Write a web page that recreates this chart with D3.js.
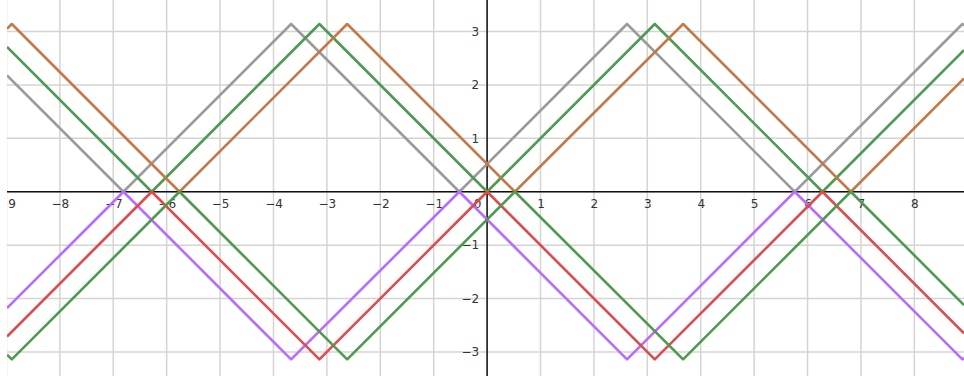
<!DOCTYPE html>
<html>
<head>
<meta charset="utf-8">
<script src="https://cdn.jsdelivr.net/npm/d3@7"></script>
<style>
  body { margin: 0; background: #fff; }
  svg { display: block; }
  .tick text { font-family: "DejaVu Sans", sans-serif; font-size: 12px; fill: #333; }
</style>
</head>
<body>
<svg width="964" height="376"></svg>
<script>

// vertices (x, y in chart units)
const grayX   = [-8.99, -6.81, -3.67, -0.52, 2.62, 5.76, 8.90, 8.93];
const grayY   = [2.18, 0, 3.14, 0, 3.14, 0, 3.14, 3.11];
const purpleX = [-8.99, -6.81, -3.67, -0.52, 2.62, 5.76, 8.90, 8.93];
const purpleY = [-2.18, 0, -3.14, 0, -3.14, 0, -3.14, -3.11];
const greenX  = [-8.99, -6.28, -3.14, 0, 3.14, 6.28, 8.93];
const greenY  = [2.71, 0, 3.14, 0, 3.14, 0, 2.65];
const redX    = [-8.99, -6.28, -3.14, 0, 3.14, 6.28, 8.93];
const redY    = [-2.71, 0, -3.14, 0, -3.14, 0, -2.65];
const orangeX = [-8.99, -8.90, -5.76, -2.62, 0.52, 3.67, 6.81, 8.93];
const orangeY = [3.05, 3.14, 0, 3.14, 0, 3.14, 0, 2.12];
const green2X = [-8.99, -8.90, -5.76, -2.62, 0.52, 3.67, 6.81, 8.93];
const green2Y = [-3.05, -3.14, 0, -3.14, 0, -3.14, 0, -2.12];

const xTicks = [-9, -8, -7, -6, -5, -4, -3, -2, -1, 1, 2, 3, 4, 5, 6, 7, 8];
const yTicks = [-3, -2, -1, 1, 2, 3];
const xGrid  = [-9, -8, -7, -6, -5, -4, -3, -2, -1, 0, 1, 2, 3, 4, 5, 6, 7, 8];
const yGrid  = [-3, -2, -1, 0, 1, 2, 3];

const series = [
  {xs: grayX,   ys: grayY,   color: "#9b9b9b"},
  {xs: greenX,  ys: greenY,  color: "#4f9a50"},
  {xs: orangeX, ys: orangeY, color: "#c47a48"},
  {xs: purpleX, ys: purpleY, color: "#bb6bff"},
  {xs: redX,    ys: redY,    color: "#df4b4b"},
  {xs: green2X, ys: green2Y, color: "#4f9a50"}
];

const svg = d3.select("svg");
const pLeft = 7, pRight = 964, pTop = 0, pBottom = 376;

const x = d3.scaleLinear().domain([-8.99, 8.93]).range([pLeft, pRight]);
const y = d3.scaleLinear().domain([-3.45, 3.59]).range([pBottom, pTop]);

svg.append("defs").append("clipPath").attr("id", "plot")
  .append("rect").attr("x", pLeft).attr("y", pTop)
  .attr("width", pRight - pLeft).attr("height", pBottom - pTop);

const g = svg.append("g").attr("clip-path", "url(#plot)");

// grid
g.append("g").selectAll("line").data(xGrid).join("line")
  .attr("x1", d => x(d)).attr("x2", d => x(d))
  .attr("y1", pTop).attr("y2", pBottom)
  .attr("stroke", "#d4d4d4").attr("stroke-width", 1.5);
g.append("g").selectAll("line").data(yGrid).join("line")
  .attr("x1", pLeft).attr("x2", pRight)
  .attr("y1", d => y(d)).attr("y2", d => y(d))
  .attr("stroke", "#d4d4d4").attr("stroke-width", 1.5);

// axes lines
g.append("line").attr("x1", pLeft).attr("x2", pRight)
  .attr("y1", y(0)).attr("y2", y(0))
  .attr("stroke", "#111").attr("stroke-width", 1.5);
g.append("line").attr("x1", x(0)).attr("x2", x(0))
  .attr("y1", pTop).attr("y2", pBottom)
  .attr("stroke", "#111").attr("stroke-width", 1.5);

// tick labels
const fmt = d => d < 0 ? "\u2212" + Math.abs(d) : String(d);
const xa = g.append("g").attr("transform", `translate(0,${y(0)})`)
  .call(d3.axisBottom(x).tickValues(xTicks).tickSize(0).tickPadding(8).tickFormat(fmt));
xa.select(".domain").remove();
const ya = g.append("g").attr("transform", `translate(${x(0)},0)`)
  .call(d3.axisLeft(y).tickValues(yTicks).tickSize(0).tickPadding(8).tickFormat(fmt));
ya.select(".domain").remove();
const za = g.append("g").attr("transform", `translate(${x(0) - 10},${y(0)})`)
  .call(d3.axisBottom(d3.scaleLinear().domain([0, 1]).range([0, 1])).tickValues([0]).tickSize(0).tickPadding(8).tickFormat(fmt));
za.select(".domain").remove();

// lines
const line = d3.line().x(d => x(d[0])).y(d => y(d[1]));
g.append("g").selectAll("path").data(series).join("path")
  .attr("d", s => line(s.xs.map((v, i) => [v, s.ys[i]])))
  .attr("fill", "none")
  .attr("stroke", s => s.color)
  .attr("stroke-width", 2.6)
  .attr("stroke-linejoin", "round");

</script>
</body>
</html>
